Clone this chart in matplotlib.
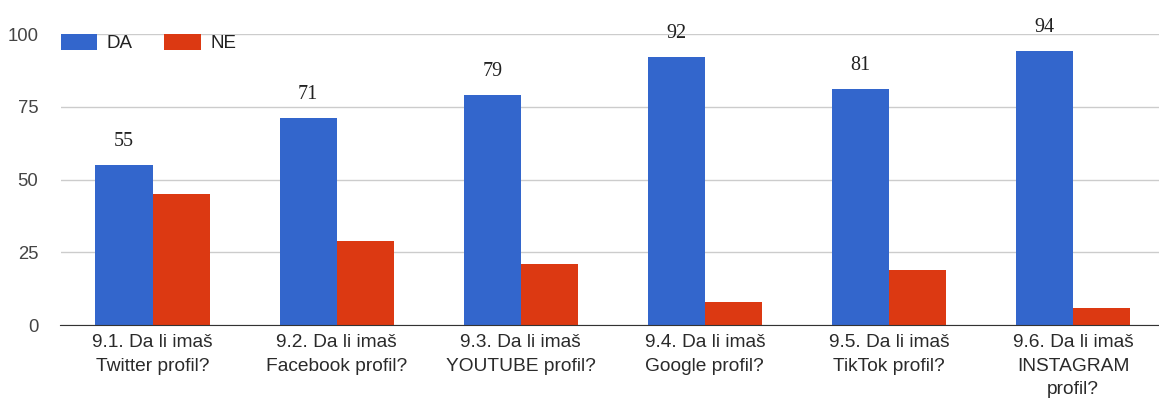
import matplotlib
matplotlib.use("Agg")
import matplotlib.pyplot as plt
import numpy as np

categories = ["9.1. Da li imaš\nTwitter profil?", "9.2. Da li imaš\nFacebook profil?",
              "9.3. Da li imaš\nYOUTUBE profil?", "9.4. Da li imaš\nGoogle profil?",
              "9.5. Da li imaš\nTikTok profil?", "9.6. Da li imaš\nINSTAGRAM\nprofil?"]
da = [55, 71, 79, 92, 81, 94]
ne = [45, 29, 21, 8, 19, 6]
yticks = [0, 25, 50, 75, 100]

plt.rcParams['font.family'] = ['Liberation Sans', 'DejaVu Sans']
W, H = 1159, 404
fig = plt.figure(figsize=(W/100, H/100), dpi=100)
ax = fig.add_axes([60.5/W, 79/H, 1104.6/W, 291/H])

x = np.arange(len(categories))
w = 0.31
ax.bar(x - w/2, da, w, color="#3366cc", label="DA", zorder=3)
ax.bar(x + w/2, ne, w, color="#dc3912", label="NE", zorder=3)

for xi, v in zip(x, da):
    ax.annotate(str(v), (xi - w/2, v), xytext=(0, 17), textcoords="offset points",
                ha="center", va="center", fontsize=14.5,
                family="Liberation Serif", color="#222222", annotation_clip=False)

ax.set_xlim(-0.5, len(categories) - 0.5)
ax.set_ylim(0, 100)
ax.set_yticks(yticks)
ax.set_yticklabels([str(t) for t in yticks], fontsize=13.3, color="#444444")
ax.set_xticks(x)
ax.set_xticklabels(categories, fontsize=13.8, color="#2a2a2a", linespacing=1.5)
ax.tick_params(axis="both", length=0)
ax.tick_params(axis="y", pad=16)
ax.tick_params(axis="x", pad=6.5)
ax.grid(axis="y", color="#cccccc", linewidth=1, zorder=0)
for s in ["top", "right", "left"]:
    ax.spines[s].set_visible(False)
ax.spines["bottom"].set_color("#333333")
ax.spines["bottom"].set_zorder(4)

leg = ax.legend(loc="center left", bbox_to_anchor=(0.0, 1 - 9/291), ncol=2, frameon=False,
                fontsize=13.5, handlelength=1.97, handleheight=1.0, columnspacing=1.7,
                handletextpad=0.48, borderaxespad=0, borderpad=0)
for t in leg.get_texts():
    t.set_color("#222222")

fig.savefig("out.png", dpi=100, facecolor="white")
